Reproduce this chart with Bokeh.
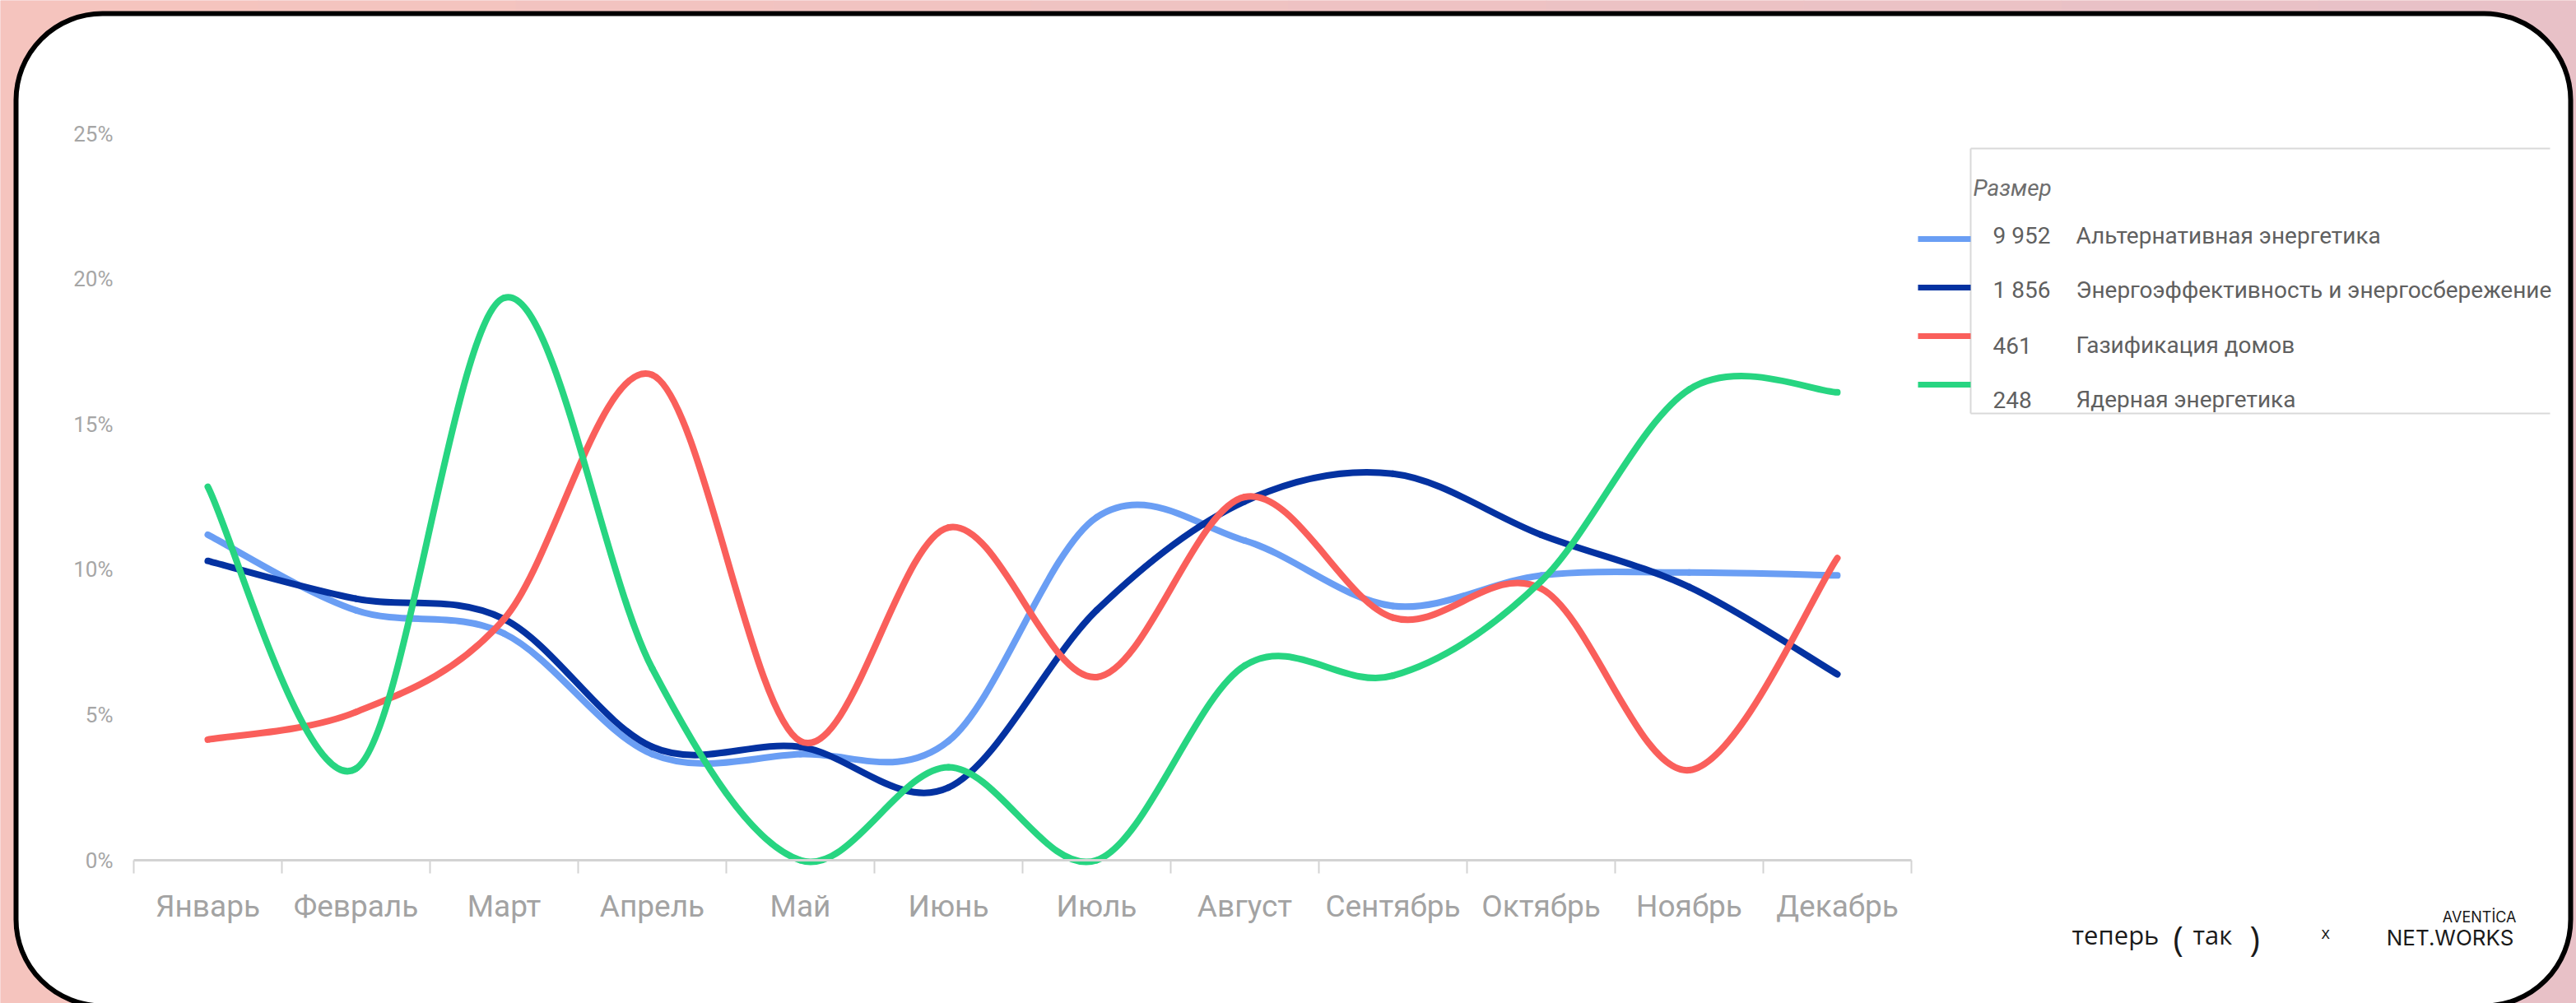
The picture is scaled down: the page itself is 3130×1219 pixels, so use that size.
import numpy as np
from bokeh.plotting import figure
from bokeh.models import (Range1d, FixedTicker, NumeralTickFormatter, BoxAnnotation,
                          Label, Arrow, ColumnDataSource)
from bokeh.embed import file_html
from bokeh.resources import INLINE

# ---------------- data ----------------
months = ["Январь", "Февраль", "Март", "Апрель", "Май", "Июнь",
          "Июль", "Август", "Сентябрь", "Октябрь", "Ноябрь", "Декабрь"]
series_names = ["Альтернативная энергетика",
                "Энергоэффективность и энергосбережение",
                "Газификация домов",
                "Ядерная энергетика"]
series_sizes = ["9 952", "1 856", "461", "248"]
legend_title = "Размер"

alt_energy = [11.2, 8.6, 7.8, 3.65, 3.65, 4.1, 11.8, 11.0, 8.75, 9.8, 9.9, 9.8]
energy_eff = [10.3, 9.0, 8.3, 3.9, 3.9, 2.5, 8.6, 12.35, 13.3, 11.2, 9.4, 6.4]
gasification = [4.15, 5.1, 8.3, 16.7, 4.1, 11.45, 6.3, 12.5, 8.35, 9.35, 3.1, 10.4]
nuclear = [12.85, 3.15, 19.35, 6.6, 0.0, 3.2, 0.0, 6.7, 6.35, 9.6, 16.2, 16.1]

y_ticks = [0, 5, 10, 15, 20, 25]

colors = ["#6A9EF4", "#0432A1", "#FA5F5B", "#27D581"]

# ---------------- layout (pixels of the 3130x1219 page) ----------------
W, H = 3130, 1219
PL, PR, PT, PB = 162, 2322, 162, 1045      # plot area in pixels
N = len(months)
XPX = (PR - PL) / N                        # pixels per category
YPX = (PB - PT) / 0.25                     # pixels per unit of share


def X(px):
    return -0.5 + (px - PL) / XPX


def Y(py):
    return (PB - py) / YPX


def smooth(xs, ys):
    """Bezier segments (Catmull-Rom style, like Excel's smoothed line)."""
    x = np.asarray(xs, float)
    y = np.asarray(ys, float)
    n = len(x)
    xp = np.concatenate([[x[0]], x, [x[-1]]])
    yp = np.concatenate([[y[0]], y, [y[-1]]])
    return dict(
        x0=x[:-1], y0=y[:-1], x1=x[1:], y1=y[1:],
        cx0=x[:-1] + (xp[2:n + 1] - xp[0:n - 1]) / 6.0,
        cy0=y[:-1] + (yp[2:n + 1] - yp[0:n - 1]) / 6.0,
        cx1=x[1:] - (xp[3:n + 2] - xp[1:n]) / 6.0,
        cy1=y[1:] - (yp[3:n + 2] - yp[1:n]) / 6.0,
    )


p = figure(width=W, height=H, output_backend="svg", toolbar_location=None,
           x_range=Range1d(X(0), X(W)), y_range=Range1d(Y(H), Y(0)),
           min_border=0, min_border_left=0, min_border_right=0,
           min_border_top=0, min_border_bottom=0)
p.background_fill_color = "#EFC3C3"
p.border_fill_color = "#EFC3C3"
p.outline_line_color = None
p.xgrid.visible = False
p.ygrid.visible = False

# soft pink background gradient (salmon on the left, rosier on the right)
bg_left = np.array([245, 196, 190])
bg_right = np.array([232, 193, 199])
n_strips = 10
for k in range(n_strips):
    t = k / (n_strips - 1)
    c = (bg_left * (1 - t) + bg_right * t).round().astype(int)
    p.add_layout(BoxAnnotation(left=X(W * k / n_strips), right=X(W * (k + 1) / n_strips + 1),
                               top=Y(0), bottom=Y(H), fill_color="#%02x%02x%02x" % tuple(c),
                               fill_alpha=1.0, line_color=None, level="image"))

# rounded white card
card = BoxAnnotation(left=X(19), right=X(3123), top=Y(16), bottom=Y(1222),
                     fill_color="white", fill_alpha=1.0,
                     line_color="black", line_alpha=1.0, line_width=6, border_radius=105,
                     level="image")
p.add_layout(card)

# series
xs = list(range(N))
for vals, col in zip([alt_energy, energy_eff, gasification, nuclear], colors):
    src = ColumnDataSource(smooth(xs, np.array(vals) / 100.0))
    p.bezier(x0="x0", y0="y0", x1="x1", y1="y1", cx0="cx0", cy0="cy0",
             cx1="cx1", cy1="cy1", source=src, line_color=col, line_width=8,
             line_cap="round")

# x axis
xa = p.xaxis[0]
xa.fixed_location = 0
xa.bounds = (-0.5, N - 0.5)
xa.ticker = FixedTicker(ticks=xs, minor_ticks=[i - 0.5 for i in range(N + 1)])
xa.major_label_overrides = {i: m for i, m in enumerate(months)}
xa.axis_line_color = "#D3D3D3"
xa.axis_line_width = 3
xa.major_tick_line_color = None
xa.major_tick_out = 0
xa.major_tick_in = 0
xa.minor_tick_line_color = "#D3D3D3"
xa.minor_tick_line_width = 2
xa.minor_tick_out = 16
xa.minor_tick_in = 0
xa.major_label_standoff = 18
xa.major_label_text_font = "Roboto"
xa.major_label_text_font_size = "37px"
xa.major_label_text_color = "#A3A3A3"

# y axis
ya = p.yaxis[0]
ya.fixed_location = -0.5
ya.bounds = (0, 0.25)
ya.ticker = FixedTicker(ticks=[t / 100.0 for t in y_ticks])
ya.formatter = NumeralTickFormatter(format="0%")
ya.axis_line_color = None
ya.major_tick_line_color = None
ya.minor_tick_line_color = None
ya.major_tick_out = 0
ya.major_tick_in = 0
ya.major_label_standoff = 25
ya.major_label_text_font = "Roboto"
ya.major_label_text_font_size = "26px"
ya.major_label_text_color = "#A6A6A6"

# legend-like table
box_col = "#D9D9D9"
for (x0, y0, x1, y1) in [(2394, 180, 3098, 180), (2394, 180, 2394, 502), (2394, 502, 3098, 502)]:
    p.add_layout(Arrow(x_start=X(x0), y_start=Y(y0), x_end=X(x1), y_end=Y(y1),
                       end=None, line_color=box_col, line_width=2))

p.add_layout(Label(x=X(2397), y=Y(228), text=legend_title, text_font="Roboto",
                   text_font_style="italic", text_font_size="28px",
                   text_color="#6E6E6E", text_baseline="alphabetic"))

swatch_y = [290, 349, 408, 467]
text_base = [286, 352, 419, 485]
for i in range(4):
    p.add_layout(Arrow(x_start=X(2330), y_start=Y(swatch_y[i]), x_end=X(2394), y_end=Y(swatch_y[i]),
                       end=None, line_color=colors[i], line_width=7, line_cap="butt"))
    p.add_layout(Label(x=X(2421), y=Y(text_base[i]), text=series_sizes[i], text_font="Roboto",
                       text_font_size="28px", text_color="#606060", text_baseline="alphabetic"))
    p.add_layout(Label(x=X(2522), y=Y(text_base[i]), text=series_names[i], text_font="Roboto",
                       text_font_size="28px", text_color="#606060", text_baseline="alphabetic"))


# footer logos
def footer(text, px, py, size, font="Open Sans", align="left", style="normal", color="#1A1A1A"):
    p.add_layout(Label(x=X(px), y=Y(py), text=text, text_font=font, text_font_size=size,
                       text_color=color, text_align=align, text_baseline="alphabetic",
                       text_font_style=style))


footer("теперь", 2517, 1135, "31px")
footer("(", 2640, 1139, "42px")
footer("так", 2664, 1135, "31px")
footer(")", 2733, 1139, "42px")
footer("x", 2820, 1133, "20px")
footer("AVENTİCA", 3057, 1114, "18px", font="Inter", align="right")
footer("NET.WORKS", 3054, 1139, "26px", font="Inter", align="right")

open("out.html", "w").write(file_html(p, INLINE))
